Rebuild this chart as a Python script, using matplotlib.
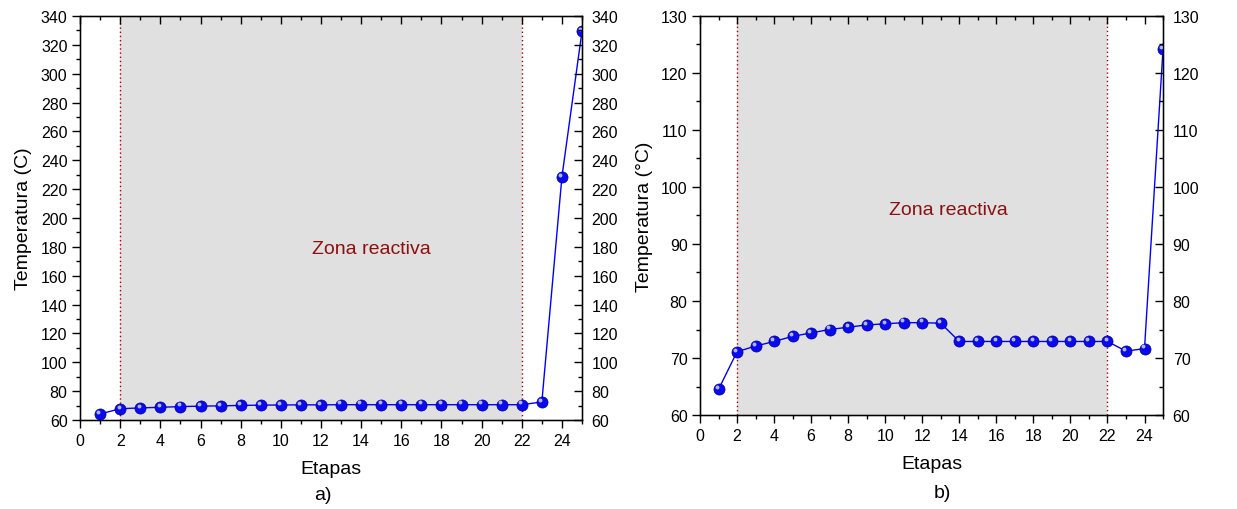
import matplotlib
matplotlib.use("Agg")
import matplotlib.pyplot as plt
from matplotlib.ticker import MultipleLocator
from matplotlib.transforms import offset_copy

plt.rcParams['font.family'] = ['Liberation Sans', 'DejaVu Sans']

# Stage numbers and temperature profiles
etapas = list(range(1, 26))
temp_a = [64.2, 67.8, 68.4, 68.8, 69.3, 69.6, 69.8, 70.1, 70.3, 70.4, 70.5, 70.5,
          70.6, 70.6, 70.6, 70.6, 70.6, 70.6, 70.6, 70.6, 70.6, 70.6, 72.5, 228.5, 329.5]
temp_b = [64.5, 71.1, 72.1, 72.9, 73.8, 74.4, 75.0, 75.4, 75.8, 76.0, 76.2, 76.2,
          76.1, 72.9, 72.9, 72.9, 72.9, 72.9, 72.9, 72.9, 72.9, 72.9, 71.2, 71.65, 124.2]

zona = (2, 22)
ylabels = ["Temperatura (C)", "Temperatura (°C)"]
panel_tags = ["a)", "b)"]

fig = plt.figure(figsize=(12.37, 5.10), dpi=100)
ax_a = fig.add_axes([0.0647, 0.1745, 0.4058, 0.7922])
ax_b = fig.add_axes([0.5659, 0.1843, 0.3743, 0.7824])

configs = [
    (ax_a, temp_a, (60, 340), 20, 10, (14.5, 179)),
    (ax_b, temp_b, (60, 130), 10, 5, (13.4, 96)),
]

TICK_FS = 11.5
for i, (ax, temps, ylim, ymaj, ymin, txt) in enumerate(configs):
    ax.axvspan(zona[0], zona[1], color='#e0e0e0', zorder=0, lw=0)
    for xv in zona:
        ax.axvline(xv, color='#a00000', ls=(0, (1, 2)), lw=1.0, zorder=1)
    ax.plot(etapas, temps, color='#0000ff', lw=1.0, zorder=2)
    ax.plot(etapas, temps, ls='none', marker='o', ms=8, mfc='#0a0af0',
            mec='#00008a', mew=0.5, zorder=3)
    hl = offset_copy(ax.transData, fig=fig, x=-1.2, y=1.6, units='points')
    ax.plot(etapas, temps, ls='none', marker='o', ms=2.8, mfc='#c8c8ff',
            mec='none', transform=hl, zorder=4, alpha=0.9)
    ax.text(txt[0], txt[1], "Zona reactiva", color='#8b1010', fontsize=14,
            ha='center', va='center')

    ax.set_xlim(0, 25)
    ax.set_ylim(*ylim)
    ax.xaxis.set_major_locator(MultipleLocator(2))
    ax.xaxis.set_minor_locator(MultipleLocator(1))
    ax.yaxis.set_major_locator(MultipleLocator(ymaj))
    ax.yaxis.set_minor_locator(MultipleLocator(ymin))
    ax.tick_params(which='both', direction='out', labelsize=TICK_FS, width=1.0)
    ax.tick_params(which='major', length=5.5)
    ax.tick_params(which='minor', length=3)
    for sp in ax.spines.values():
        sp.set_linewidth(1.0)

    # mirrored ticks on top (no labels) and on the right (with labels)
    top = ax.twiny()
    top.set_xlim(ax.get_xlim())
    top.xaxis.set_major_locator(MultipleLocator(2))
    top.xaxis.set_minor_locator(MultipleLocator(1))
    top.tick_params(which='both', direction='in', labeltop=False, width=1.0)
    top.tick_params(which='major', length=5.5)
    top.tick_params(which='minor', length=3)
    top.yaxis.set_visible(False)

    right = ax.twinx()
    right.set_ylim(ax.get_ylim())
    right.yaxis.set_major_locator(MultipleLocator(ymaj))
    right.yaxis.set_minor_locator(MultipleLocator(ymin))
    right.tick_params(which='both', direction='in', labelsize=TICK_FS, width=1.0, pad=7)
    right.tick_params(which='major', length=5.5)
    right.tick_params(which='minor', length=3)
    right.xaxis.set_visible(False)
    right.yaxis.offsetText.set_visible(False)

    ax.set_xlabel("Etapas", fontsize=14, labelpad=9)
    ax.set_ylabel(ylabels[i], fontsize=14, labelpad=6)

fig.text(0.261, 0.028, panel_tags[0], fontsize=14, ha='center', va='center')
fig.text(0.762, 0.033, panel_tags[1], fontsize=14, ha='center', va='center')

fig.savefig("out.png", dpi=100)
